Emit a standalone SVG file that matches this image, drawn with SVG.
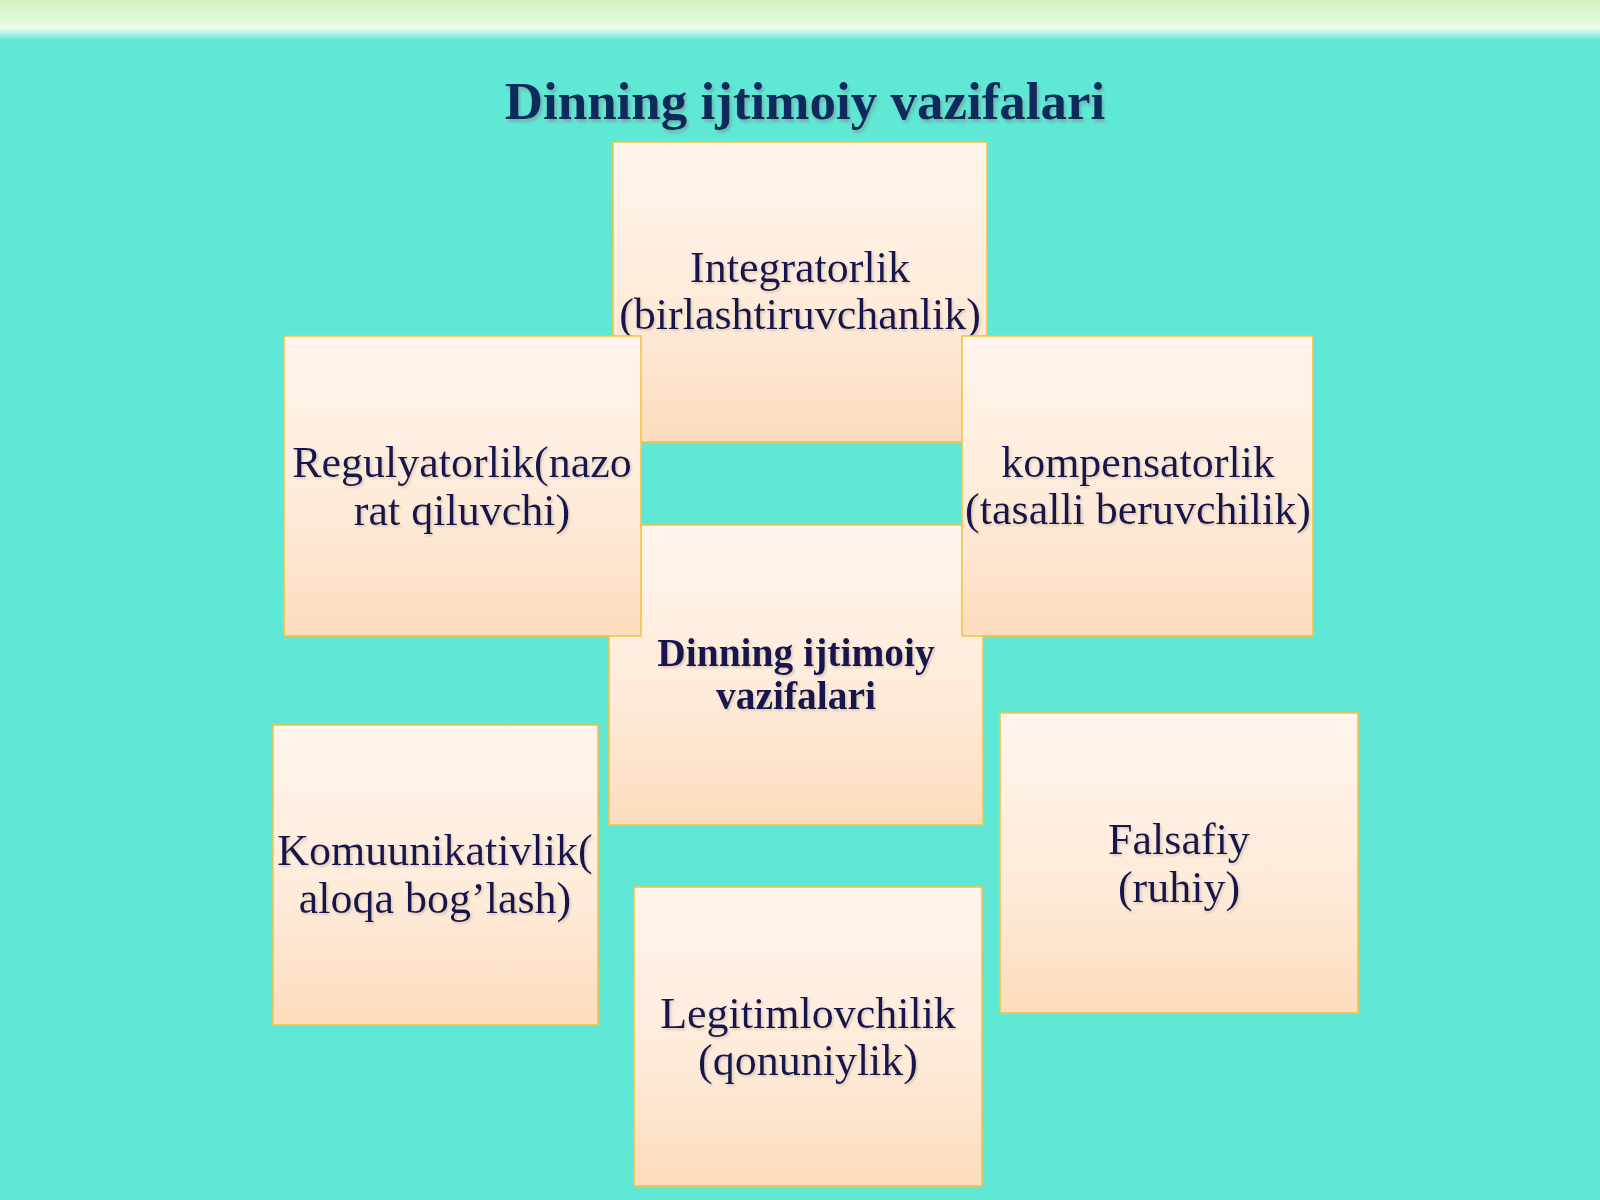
<svg xmlns="http://www.w3.org/2000/svg" width="1600" height="1200" viewBox="0 0 1600 1200">
  <defs>
    <linearGradient id="band" x1="0" y1="0" x2="0" y2="1">
      <stop offset="0" stop-color="#d3f2c0"/>
      <stop offset="0.5" stop-color="#e2f9d6"/>
      <stop offset="0.7" stop-color="#effde8"/>
      <stop offset="0.82" stop-color="#b4f3e6"/>
      <stop offset="1" stop-color="#5fe8d6"/>
    </linearGradient>
    <linearGradient id="boxfill" x1="0" y1="0" x2="0" y2="1">
      <stop offset="0" stop-color="#fff5ec"/>
      <stop offset="0.6" stop-color="#feead8"/>
      <stop offset="1" stop-color="#fcdcbc"/>
    </linearGradient>
    <filter id="tshadow" x="-5%" y="-20%" width="110%" height="150%">
      <feDropShadow dx="2" dy="3" stdDeviation="1.5" flood-color="#7a8a8a" flood-opacity="0.55"/>
    </filter>
    <filter id="lshadow" x="-5%" y="-20%" width="110%" height="150%">
      <feDropShadow dx="1.5" dy="2" stdDeviation="1.2" flood-color="#b0a090" flood-opacity="0.45"/>
    </filter>
  </defs>
  <style>
    .box { fill: url(#boxfill); stroke: #f3c444; stroke-width: 1.6; }
    .lbl { font-family: "Liberation Serif", "Times New Roman", serif; font-size: 44px; fill: #16164e; text-anchor: middle; }
    .ctr { font-family: "Liberation Serif", "Times New Roman", serif; font-size: 39.5px; font-weight: bold; fill: #16164e; text-anchor: middle; }
    .title { font-family: "Liberation Serif", "Times New Roman", serif; font-size: 53px; font-weight: bold; fill: #0f2a5c; text-anchor: middle; }
  </style>

  <rect x="0" y="0" width="1600" height="1200" fill="#5fe8d6"/>
  <rect x="0" y="0" width="1600" height="40" fill="url(#band)"/>

  <text class="title" x="805" y="119" filter="url(#tshadow)">Dinning ijtimoiy vazifalari</text>

  <g id="connectors"></g>

  <g id="node-integratorlik">
    <rect class="box" x="613" y="142" width="374" height="300"/>
    <text class="lbl" x="800" y="282" filter="url(#lshadow)">Integratorlik</text>
    <text class="lbl" x="800" y="329" filter="url(#lshadow)">(birlashtiruvchanlik)</text>
  </g>

  <g id="node-center">
    <rect class="box" x="609" y="525" width="374" height="300"/>
    <text class="ctr" x="796" y="666" filter="url(#lshadow)">Dinning ijtimoiy</text>
    <text class="ctr" x="796" y="709" filter="url(#lshadow)">vazifalari</text>
  </g>

  <g id="node-regulyatorlik">
    <rect class="box" x="284" y="336" width="357" height="300"/>
    <text class="lbl" x="462" y="477" filter="url(#lshadow)">Regulyatorlik(nazo</text>
    <text class="lbl" x="462" y="525" filter="url(#lshadow)">rat qiluvchi)</text>
  </g>

  <g id="node-kompensatorlik">
    <rect class="box" x="962" y="336" width="351" height="300"/>
    <text class="lbl" x="1138" y="477" filter="url(#lshadow)">kompensatorlik</text>
    <text class="lbl" x="1138" y="524" filter="url(#lshadow)">(tasalli beruvchilik)</text>
  </g>

  <g id="node-komuunikativlik">
    <rect class="box" x="273" y="725" width="325" height="300"/>
    <text class="lbl" x="435" y="865" filter="url(#lshadow)">Komuunikativlik(</text>
    <text class="lbl" x="435" y="913" filter="url(#lshadow)">aloqa bog’lash)</text>
  </g>

  <g id="node-falsafiy">
    <rect class="box" x="1000" y="713" width="358" height="300"/>
    <text class="lbl" x="1179" y="854" filter="url(#lshadow)">Falsafiy</text>
    <text class="lbl" x="1179" y="902" filter="url(#lshadow)">(ruhiy)</text>
  </g>

  <g id="node-legitimlovchilik">
    <rect class="box" x="634" y="887" width="348" height="299"/>
    <text class="lbl" x="808" y="1028" filter="url(#lshadow)">Legitimlovchilik</text>
    <text class="lbl" x="808" y="1075" filter="url(#lshadow)">(qonuniylik)</text>
  </g>
</svg>
